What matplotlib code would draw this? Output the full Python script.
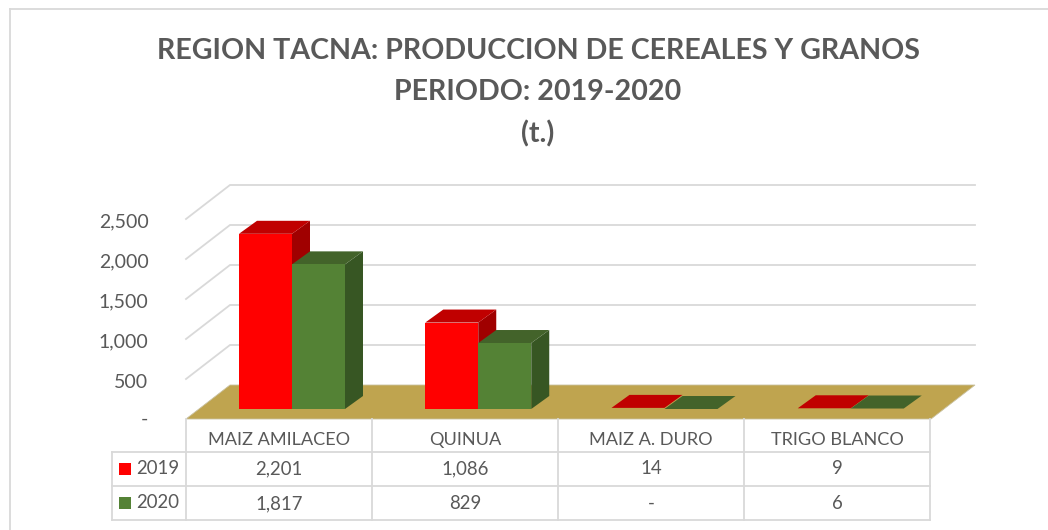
import matplotlib
matplotlib.use("Agg")
import matplotlib.pyplot as plt
from matplotlib.patches import Polygon
from matplotlib.lines import Line2D
from matplotlib.transforms import ScaledTranslation

W, H = 1048, 530
plt.rcParams['font.family'] = ['Lato', 'DejaVu Sans']

categories = ["MAIZ AMILACEO", "QUINUA", "MAIZ A. DURO", "TRIGO BLANCO"]
series_names = ["2019", "2020"]
values_2019 = [2201, 1086, 14, 9]
values_2020 = [1817, 829, 0, 6]
labels_2019 = ["2,201", "1,086", "14", "9"]
labels_2020 = ["1,817", "829", "-", "6"]
y_ticks = [0, 500, 1000, 1500, 2000, 2500]
y_tick_labels = ["-", "500", "1,000", "1,500", "2,000", "2,500"]
title_lines = ["REGION TACNA: PRODUCCION DE CEREALES Y GRANOS", "PERIODO: 2019-2020", "(t.)"]

TXT = "#595959"
GRID = "#D9D9D9"
FLOOR = "#BFA44F"
FRONT = ["#FF0000", "#548235"]
TOP = ["#C00000", "#43632A"]
SIDE = ["#A00000", "#375623"]

fig = plt.figure(figsize=(W / 100, H / 100), dpi=100, facecolor="white")

def fx(px):
    return px / W

def fy(py):
    return 1 - py / H

L, R, Y0, Y1 = 186, 931, 419, 219
ax = fig.add_axes([fx(L), fy(Y0), (R - L) / W, (Y0 - Y1) / H])
ax.set_xlim(0, len(categories))
ax.set_ylim(0, 2500)
ax.patch.set_visible(False)
for s in ax.spines.values():
    s.set_visible(False)
ax.set_xticks([])
ax.set_yticks(y_ticks)
ax.set_yticklabels(y_tick_labels, fontsize=14, color=TXT)
ax.tick_params(axis="y", length=0, pad=27)
for lab, t in zip(ax.get_yticklabels(), y_ticks):
    shift = 1 if t == 0 else -1.5
    lab.set_transform(lab.get_transform() + ScaledTranslation(0, shift / 100, fig.dpi_scale_trans))

ux = len(categories) / (R - L)   # data units per pixel
uy = 2500 / (Y0 - Y1)
DX, DY = 44 * ux, 34 * uy        # full floor depth

# walls and floor
for t in y_ticks[1:]:
    ax.plot([0, DX, len(categories) + DX], [t, t + DY, t + DY], color=GRID, lw=1.3,
            clip_on=False, zorder=1, solid_joinstyle="miter")
ax.add_patch(Polygon([(0, 0), (DX, DY), (4 + DX, DY), (4, 0)], closed=True, fc=FLOOR,
                     ec="#C9C1A0", lw=0.6, clip_on=False, zorder=2))

# bars
BAR_W = 53 * ux
BAR_OFF = 53 * ux
BASE_Y = 10 * uy
BX, BY = 18 * ux, 13 * uy

def bar(x, v, i):
    y0, y1 = BASE_Y, BASE_Y + v * 0.995
    x1 = x + BAR_W
    if v > 100:
        ax.add_patch(Polygon([(x1, y0), (x1 + BX, y0 + BY), (x1 + BX, y1 + BY), (x1, y1)],
                             fc=SIDE[i], ec="none", clip_on=False, zorder=3 + i))
    ax.add_patch(Polygon([(x, y1), (x + BX, y1 + BY), (x1 + BX, y1 + BY), (x1, y1)],
                         fc=TOP[i], ec="none", clip_on=False, zorder=3 + i))
    if v > 100:
        ax.add_patch(Polygon([(x, y0), (x1, y0), (x1, y1), (x, y1)],
                             fc=FRONT[i], ec="none", clip_on=False, zorder=3 + i))

for c, (a, b) in enumerate(zip(values_2019, values_2020)):
    bar(c + BAR_OFF, a, 0)
    bar(c + BAR_OFF + BAR_W, b, 1)

# title
for line, py, in zip(title_lines, [51, 92, 134]):
    fig.text(fx(538), fy(py), line, ha="center", va="center", fontsize=20.6,
             fontweight="bold", color=TXT)

# chart frame
def hline(py, x0, x1):
    fig.add_artist(Line2D([fx(x0), fx(x1)], [fy(py), fy(py)], color=GRID, lw=1.3))

def vline(px, y0, y1):
    fig.add_artist(Line2D([fx(px), fx(px)], [fy(y0), fy(y1)], color=GRID, lw=1.3))

hline(9, 10, W)
vline(10, 9, H)

# data table
col_x = [186, 372, 558, 744, 930]
row_y = [452, 486, 520]
for py in row_y:
    hline(py, 112, 930)
vline(112, 452, 520)
for px in col_x:
    vline(px, 419, 520)

rows = [labels_2019, labels_2020]
for j, name in enumerate(categories):
    cx = (col_x[j] + col_x[j + 1]) / 2
    fig.text(fx(cx), fy(440), name, ha="center", va="center", fontsize=13.1, color=TXT)
    for r, py in zip(rows, [468.5, 503.5]):
        fig.text(fx(cx), fy(py), r[j], ha="center", va="center", fontsize=13.4, color=TXT)

for i, (name, py) in enumerate(zip(series_names, [469, 503])):
    fig.patches.append(Polygon([(fx(119), fy(py - 6)), (fx(131), fy(py - 6)), (fx(131), fy(py + 6)), (fx(119), fy(py + 6))],
                               transform=fig.transFigure, fc=FRONT[i], ec="none", figure=fig))
    fig.text(fx(136), fy(py), name, ha="left", va="center", fontsize=13.4, color=TXT)

fig.savefig("out.png", dpi=100, facecolor="white")
